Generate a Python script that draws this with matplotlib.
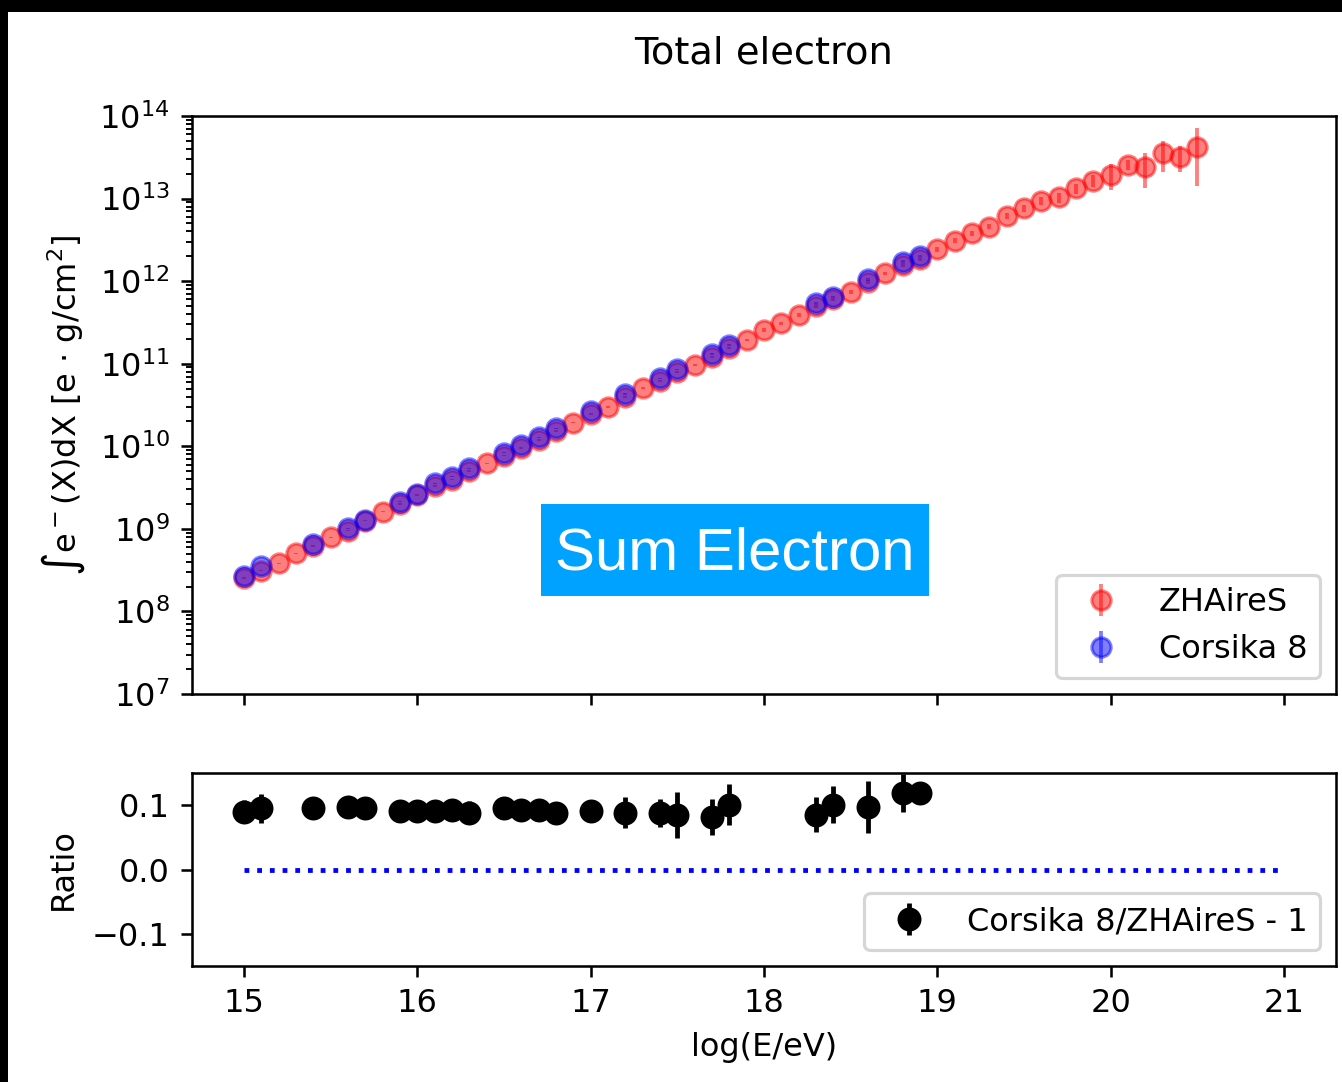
"""Total electron: ZHAireS vs Corsika 8, with ratio panel."""

import matplotlib.pyplot as plt
from matplotlib.patches import Rectangle

# ZHAireS: integrated electron number vs log(E/eV)
zh_log_e = [15.0, 15.1, 15.2, 15.3, 15.4, 15.5, 15.6, 15.7, 15.8, 15.9,
            16.0, 16.1, 16.2, 16.3, 16.4, 16.5, 16.6, 16.7, 16.8, 16.9,
            17.0, 17.1, 17.2, 17.3, 17.4, 17.5, 17.6, 17.7, 17.8, 17.9,
            18.0, 18.1, 18.2, 18.3, 18.4, 18.5, 18.6, 18.7, 18.8, 18.9,
            19.0, 19.1, 19.2, 19.3, 19.4, 19.5, 19.6, 19.7, 19.8, 19.9,
            20.0, 20.1, 20.2, 20.3, 20.4, 20.5]
zh_sum = [2.54e8, 3.11e8, 3.83e8, 5.06e8, 6.19e8, 7.91e8, 9.51e8, 1.256e9, 1.614e9, 2.00e9,
          2.57e9, 3.30e9, 3.96e9, 5.02e9, 6.22e9, 7.73e9, 9.53e9, 1.191e10, 1.531e10, 1.932e10,
          2.46e10, 3.01e10, 3.95e10, 5.04e10, 6.18e10, 7.94e10, 9.64e10, 1.205e11, 1.549e11, 1.936e11,
          2.56e11, 3.08e11, 3.89e11, 5.00e11, 6.00e11, 7.45e11, 9.77e11, 1.245e12, 1.570e12, 1.854e12,
          2.43e12, 3.09e12, 3.79e12, 4.56e12, 6.15e12, 7.62e12, 9.42e12, 1.035e13, 1.330e13, 1.648e13,
          1.932e13, 2.55e13, 2.43e13, 3.53e13, 3.21e13, 4.25e13]
zh_rel_err = [0.02] * 20 + [0.03] * 10 + [0.05] * 10 + \
             [0.07, 0.07, 0.06, 0.07, 0.09, 0.10, 0.12, 0.14, 0.14, 0.17,
              0.34, 0.14, 0.45, 0.40, 0.35, 0.67]

# Corsika 8
c8_log_e = [15.0, 15.1, 15.4, 15.6, 15.7, 15.9, 16.0, 16.1, 16.2, 16.3,
            16.5, 16.6, 16.7, 16.8, 17.0, 17.2, 17.4, 17.5, 17.7, 17.8,
            18.3, 18.4, 18.6, 18.8, 18.9]
c8_sum = [2.69e8, 3.55e8, 6.56e8, 1.016e9, 1.279e9, 2.13e9, 2.64e9, 3.56e9, 4.29e9, 5.41e9,
          8.36e9, 1.038e10, 1.285e10, 1.652e10, 2.67e10, 4.30e10, 6.65e10, 8.55e10, 1.312e11, 1.687e11,
          5.40e11, 6.49e11, 1.052e12, 1.722e12, 2.02e12]
c8_rel_err = [0.01] * 15 + [0.02] * 5 + [0.03, 0.03, 0.04, 0.04, 0.02]

# Corsika 8 / ZHAireS - 1
ratio = [0.090, 0.095, 0.096, 0.097, 0.096, 0.091, 0.091, 0.091, 0.092, 0.088,
         0.095, 0.092, 0.092, 0.088, 0.091, 0.088, 0.088, 0.085, 0.082, 0.101,
         0.085, 0.101, 0.097, 0.119, 0.119]
ratio_err = [0.018, 0.022, 0.006, 0.008, 0.006, 0.005, 0.005, 0.005, 0.006, 0.018,
             0.006, 0.006, 0.006, 0.006, 0.008, 0.024, 0.022, 0.036, 0.028, 0.032,
             0.027, 0.029, 0.041, 0.030, 0.010]

zero_line_x = [15.0, 21.0]
zero_line_y = [0.0, 0.0]

W, H = 1342, 1082
DPI = 230
fig = plt.figure(figsize=(W / DPI, H / DPI), dpi=DPI)
fig.patch.set_facecolor("black")
fig.add_artist(Rectangle((8 / W, 0), 1, 1 - 12 / H, transform=fig.transFigure,
                         facecolor="white", edgecolor="none", zorder=-10))

ax = fig.add_axes([192 / W, 1 - 694 / H, 1144 / W, 578 / H])
ax_r = fig.add_axes([192 / W, 1 - 966 / H, 1144 / W, 193 / H], sharex=ax)

zh_err = [v * e for v, e in zip(zh_sum, zh_rel_err)]
c8_err = [v * e for v, e in zip(c8_sum, c8_rel_err)]
ax.errorbar(zh_log_e, zh_sum, yerr=zh_err, fmt="o", color="red", alpha=0.5,
            markersize=6, elinewidth=1.2, label="ZHAireS")
ax.errorbar(c8_log_e, c8_sum, yerr=c8_err, fmt="o", color="blue", alpha=0.5,
            markersize=6, elinewidth=1.2, label="Corsika 8")
ax.set_yscale("log")
ax.set_ylim(1e7, 1e14)
ax.set_ylabel(r"$\int$e$^-$(X)dX [e $\cdot$ g/cm$^2$]")
ax.set_title("Total electron", pad=16.5)
ax.tick_params(labelbottom=False)
ax.legend(loc="lower right")

ax_r.errorbar(c8_log_e, ratio, yerr=ratio_err, fmt="o", color="black",
              markersize=6.5, label="Corsika 8/ZHAireS - 1")
ax_r.plot(zero_line_x, zero_line_y, ":", color="blue")
ax_r.set_ylim(-0.15, 0.15)
ax_r.set_yticks([-0.1, 0.0, 0.1])
ax_r.set_ylabel("Ratio")
ax_r.set_xlabel("log(E/eV)")
ax_r.legend(loc="lower right")

# highlighted caption box
fig.add_artist(Rectangle((541 / W, 1 - 596 / H), 388 / W, 92 / H,
                         transform=fig.transFigure, facecolor="#00a2ff", edgecolor="none"))
fig.text(735 / W, 1 - 554 / H, "Sum Electron", color="white", fontsize=18.8,
         family="Liberation Sans", ha="center", va="center")

fig.savefig("out.png", dpi=DPI)
